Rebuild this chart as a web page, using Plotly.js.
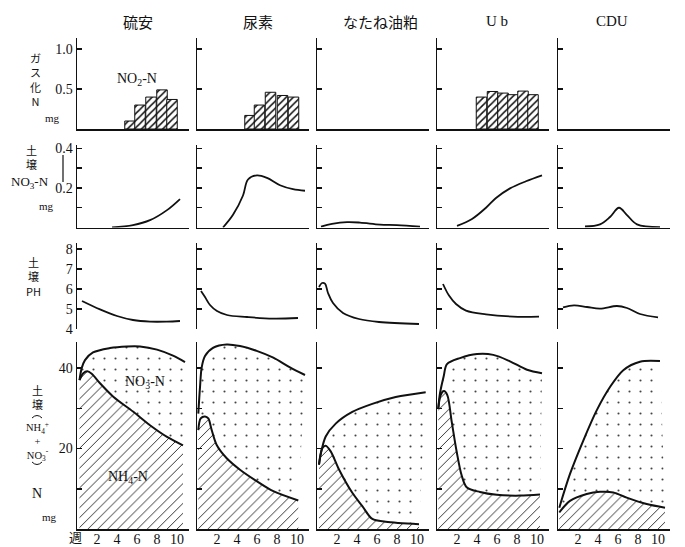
<!DOCTYPE html>
<html><head><meta charset="utf-8">
<script src="https://cdn.plot.ly/plotly-3.0.1.min.js"></script>
<style>body{margin:0;background:#fff}#chart{width:685px;height:547px}</style>
</head><body><div id="chart"></div>
<script>
// ---------- DATA ----------
const colNames = ['硫安', '尿素', 'なたね油粕', 'U b', 'CDU'];
const weekTicks = [2, 4, 6, 8, 10];

// Row 1: gasified N (NO2-N), mg
const gasX1 = [5.3, 6.3, 7.4, 8.5, 9.5];
const gasY1 = [0.10, 0.30, 0.40, 0.49, 0.37];
const gasX2 = [5.3, 6.25, 7.35, 8.55, 9.65];
const gasY2 = [0.17, 0.30, 0.46, 0.42, 0.40];
const gasX3 = [];
const gasY3 = [];
const gasX4 = [4.45, 5.55, 6.6, 7.6, 8.6, 9.6];
const gasY4 = [0.40, 0.47, 0.45, 0.43, 0.475, 0.43];
const gasX5 = [];
const gasY5 = [];

// Row 2: soil NO3-N, mg
const no3X1 = [3.5, 5.6, 7.3, 9.0, 10.3];
const no3Y1 = [0.0, 0.012, 0.037, 0.088, 0.144];
const no3X2 = [2.6, 3.6, 4.6, 5.1, 6.0, 7.0, 8.3, 9.6, 10.8];
const no3Y2 = [0.0, 0.064, 0.162, 0.243, 0.264, 0.251, 0.214, 0.194, 0.186];
const no3X3 = [0.4, 1.5, 3.0, 4.3, 6.3, 8.0, 10.3];
const no3Y3 = [0.005, 0.018, 0.027, 0.025, 0.015, 0.012, 0.004];
const no3X4 = [2.0, 3.5, 4.9, 5.9, 7.3, 8.9, 10.5];
const no3Y4 = [0.008, 0.043, 0.10, 0.149, 0.198, 0.234, 0.264];
const no3X5 = [2.7, 4.2, 5.2, 6.1, 6.9, 7.9, 10.2];
const no3Y5 = [0.005, 0.016, 0.053, 0.10, 0.063, 0.016, 0.002];

// Row 3: soil pH
const phX1 = [0.5, 2.3, 4.0, 5.6, 7.3, 9.0, 10.3];
const phY1 = [5.4, 4.98, 4.65, 4.45, 4.37, 4.37, 4.4];
const phX2 = [0.4, 0.8, 1.3, 2.0, 3.0, 5.0, 7.6, 10.1];
const phY2 = [5.9, 5.6, 5.2, 4.9, 4.7, 4.6, 4.52, 4.55];
const phX3 = [0.2, 0.5, 0.8, 1.1, 1.6, 2.6, 4.2, 6.2, 10.2];
const phY3 = [6.1, 6.3, 6.27, 5.8, 5.3, 4.8, 4.5, 4.35, 4.25];
const phX4 = [0.6, 1.2, 1.9, 2.9, 4.9, 7.6, 10.2];
const phY4 = [6.25, 5.67, 5.25, 4.92, 4.73, 4.62, 4.62];
const phX5 = [0.5, 1.6, 2.9, 4.2, 5.9, 6.9, 8.2, 10.0];
const phY5 = [5.08, 5.18, 5.1, 5.02, 5.15, 5.05, 4.75, 4.58];

// Row 4: soil NH4-N (lower) and NH4+NO3 total (upper), mg
const nh4X1 = [0.25, 0.63, 1.03, 1.47, 2.3, 3.63, 5.6, 7.3, 9.0, 10.6];
const nh4Y1 = [37, 38.75, 39.2, 38.6, 36.25, 32.9, 29.2, 25.8, 22.9, 20.8];
const totX1 = [0.25, 0.47, 0.8, 1.6, 3.3, 5.0, 6.3, 8.0, 9.6, 10.8];
const totY1 = [37, 40, 42, 43.9, 45, 45.4, 45.4, 44.6, 43.1, 41.5];

const nh4X2 = [0.13, 0.37, 0.8, 1.13, 1.47, 1.97, 2.97, 4.3, 5.97, 7.63, 10.13];
const nh4Y2 = [24.6, 27.5, 28.0, 27.5, 24.6, 20.9, 17.6, 14.75, 11.9, 9.4, 7.1];
const totX2 = [0.13, 0.3, 0.47, 0.8, 1.63, 2.97, 4.3, 5.97, 7.63, 9.3, 10.8];
const totY2 = [28.7, 35.2, 40.2, 43, 45.1, 45.9, 45.5, 44.3, 42.6, 40.2, 38.3];

const nh4X3 = [0.2, 0.53, 0.87, 1.37, 2.2, 3.53, 4.53, 5.53, 6.87, 10.2];
const nh4Y3 = [16, 20.1, 20.7, 19.3, 14.8, 9.0, 5.7, 2.5, 1.8, 1.2];
const totX3 = [0.2, 0.4, 0.87, 1.87, 3.53, 5.53, 7.87, 10.87];
const totY3 = [16, 18.9, 23, 26.2, 29.1, 31.1, 32.8, 34];

const nh4X4 = [0.13, 0.37, 0.7, 1.03, 1.47, 1.97, 2.47, 2.97, 4.3, 5.97, 8.3, 10.3];
const nh4Y4 = [30, 33.3, 34.3, 33.3, 26.7, 19.2, 13.3, 10.4, 9.2, 8.5, 8.3, 8.6];
const totX4 = [0.13, 0.3, 0.67, 1.0, 2.3, 4.0, 5.63, 7.3, 9.0, 10.5];
const totY4 = [30, 33.75, 38, 41, 42.5, 43.5, 43.3, 41.7, 39.6, 38.75];

const nh4X5 = [0.13, 1.2, 2.87, 4.2, 5.53, 6.87, 8.87, 10.7];
const nh4Y5 = [4.1, 7.0, 8.7, 9.25, 9.1, 7.8, 6.2, 5.3];
const totX5 = [0.13, 1.2, 2.53, 3.87, 5.2, 6.53, 8.2, 10.2];
const totY5 = [5.3, 13.7, 22, 29.5, 35.3, 39.5, 41.6, 41.75];

const gasX = [gasX1, gasX2, gasX3, gasX4, gasX5];
const gasY = [gasY1, gasY2, gasY3, gasY4, gasY5];
const no3X = [no3X1, no3X2, no3X3, no3X4, no3X5];
const no3Y = [no3Y1, no3Y2, no3Y3, no3Y4, no3Y5];
const phX = [phX1, phX2, phX3, phX4, phX5];
const phY = [phY1, phY2, phY3, phY4, phY5];
const nh4X = [nh4X1, nh4X2, nh4X3, nh4X4, nh4X5];
const nh4Y = [nh4Y1, nh4Y2, nh4Y3, nh4Y4, nh4Y5];
const totX = [totX1, totX2, totX3, totX4, totX5];
const totY = [totY1, totY2, totY3, totY4, totY5];

// labelled ticks and unlabelled (minor) tick spacing per row
const rowTickVals = [[0.5, 1.0], [0.2, 0.4], [4, 5, 6, 7, 8], [20, 40]];
const rowTickText = [['0.5', '1.0'], ['0.2', '0.4'], ['4', '5', '6', '7', '8'], ['20', '40']];
const rowMinorStep = [0.5, 0.1, 1, 10];

// ---------- LAYOUT ----------
const W = 685, H = 547;
const px = v => v / W, py = v => 1 - v / H;
const colPx = [[77, 189], [197, 309], [317, 429], [437, 549], [558, 670]];
const rowPx = [[38, 129], [144.5, 227.5], [243, 329], [342, 529]];
const rowRange = [[0, 1.14], [0, 0.42], [4, 8.3], [0, 46.5]];
const INK = '#111';
const serif = 'Liberation Serif, Noto Sans CJK JP, serif';
const cjk = 'Noto Sans CJK JP, Liberation Serif, sans-serif';

const layout = {
  width: W, height: H,
  margin: {l: 0, r: 0, t: 0, b: 0},
  paper_bgcolor: 'white', plot_bgcolor: 'white',
  showlegend: false,
  annotations: [], shapes: []
};

const traces = [];
function ax(r, c) { const k = r * 5 + c + 1; return k === 1 ? '' : String(k); }

for (let r = 0; r < 4; r++) {
  for (let c = 0; c < 5; c++) {
    const s = ax(r, c);
    const xa = {
      domain: [px(colPx[c][0]), px(colPx[c][1])], range: [0, 11.2],
      anchor: 'y' + s, showline: r !== 2, linecolor: INK, linewidth: 1.5,
      ticks: '', showgrid: false, zeroline: false,
      showticklabels: r === 3, fixedrange: true
    };
    if (r === 3) {
      xa.tickmode = 'array'; xa.tickvals = weekTicks; xa.ticktext = weekTicks.map(String);
      xa.tickfont = {family: serif, size: 14, color: INK};
      xa.ticklabelstandoff = -3;
    }
    layout['xaxis' + s] = xa;
    const ya = {
      domain: [py(rowPx[r][1]), py(rowPx[r][0])], range: rowRange[r],
      anchor: 'x' + s, showline: true, linecolor: INK, linewidth: 1.5,
      ticks: 'inside', ticklen: 5, tickwidth: 1.5, tickcolor: INK,
      tickmode: 'array', tickvals: rowTickVals[r],
      minor: {dtick: rowMinorStep[r], tick0: 0, ticks: 'inside', ticklen: 5, tickwidth: 1.5, tickcolor: INK, showgrid: false},
      showticklabels: c === 0, showgrid: false, zeroline: false, fixedrange: true
    };
    if (c === 0) {
      ya.ticktext = rowTickText[r];
      ya.tickfont = {family: serif, size: 14, color: INK};
    }
    layout['yaxis' + s] = ya;
  }
}

// ---------- TRACES ----------
for (let c = 0; c < 5; c++) {
  // Row 1 bars (empty arrays still create the subplot frame)
  let s = ax(0, c);
  traces.push({
    type: 'bar', x: gasX[c], y: gasY[c], width: 1.05,
    xaxis: 'x' + s, yaxis: 'y' + s,
    marker: {color: 'white', line: {color: INK, width: 1},
      pattern: {shape: '/', fgcolor: INK, bgcolor: 'white', size: 5, solidity: 0.3}}
  });
  // Row 2 NO3-N
  s = ax(1, c);
  traces.push({type: 'scatter', mode: 'lines', x: no3X[c], y: no3Y[c], xaxis: 'x' + s, yaxis: 'y' + s,
    line: {color: INK, width: 1.8, shape: 'spline', smoothing: 1}});
  // Row 3 pH
  s = ax(2, c);
  traces.push({type: 'scatter', mode: 'lines', x: phX[c], y: phY[c], xaxis: 'x' + s, yaxis: 'y' + s,
    line: {color: INK, width: 1.8, shape: 'spline', smoothing: 1}});
  // Row 4 NH4 (hatched) and total (dotted)
  s = ax(3, c);
  traces.push({type: 'scatter', mode: 'lines', x: nh4X[c], y: nh4Y[c], xaxis: 'x' + s, yaxis: 'y' + s,
    line: {color: INK, width: 2, shape: 'spline', smoothing: 0.9},
    fill: 'tozeroy', fillcolor: 'white',
    fillpattern: {shape: '/', fgcolor: '#222', bgcolor: 'white', size: 7, solidity: 0.13}});
  traces.push({type: 'scatter', mode: 'lines', x: totX[c], y: totY[c], xaxis: 'x' + s, yaxis: 'y' + s,
    line: {color: INK, width: 2, shape: 'spline', smoothing: 0.9},
    fill: 'tonexty', fillcolor: 'white',
    fillpattern: {shape: '.', fgcolor: '#444', bgcolor: 'white', size: 11, solidity: 0.03}});
}

// ---------- TEXT ----------
function note(text, x, y, size, family, xref, yref) {
  layout.annotations.push({text: text, x: x, y: y, xref: xref || 'paper', yref: yref || 'paper',
    showarrow: false, xanchor: 'center', yanchor: 'middle', borderpad: 0,
    font: {family: family || serif, size: size || 13, color: INK}});
}
const titleX = [138, 258, 380, 497, 612];
colNames.forEach((t, i) => note(t, px(titleX[i]), py(21), 15, i >= 3 ? serif : cjk));

// row labels (multi-line blocks)
note('ガ<br>ス<br>化<br>N', px(35), py(80), 11, cjk);
note('mg', px(52), py(118), 11);

note('土<br>壌', px(32), py(157), 11, cjk);
note('NO<sub>3</sub>-N', px(30), py(182), 13);
note('mg', px(46), py(206), 11);
layout.shapes.push({type: 'line', xref: 'paper', yref: 'paper', x0: px(63), x1: px(63), y0: py(155), y1: py(182),
  line: {color: INK, width: 1.2}});

note('土<br>壌<br>PH', px(33), py(277), 11, cjk);

note('土<br>壌', px(37), py(397), 11, cjk);
note('NH<sub>4</sub><sup>+</sup><br>+<br>NO<sub>3</sub><sup>-</sup>', px(37), py(441), 10.5, serif);
// bracket arcs above NH4+ and below NO3-
layout.shapes.push({type: 'path', xref: 'paper', yref: 'paper',
  path: 'M' + px(32) + ',' + py(418) + ' Q' + px(37) + ',' + py(413) + ' ' + px(42) + ',' + py(418),
  line: {color: INK, width: 1}});
layout.shapes.push({type: 'path', xref: 'paper', yref: 'paper',
  path: 'M' + px(32) + ',' + py(462) + ' Q' + px(37) + ',' + py(467) + ' ' + px(42) + ',' + py(462),
  line: {color: INK, width: 1}});
note('N', px(37), py(493), 14);
note('mg', px(50), py(517), 11);

note('週', px(75), py(536), 13, cjk);

// in-plot labels
note('NO<sub>2</sub>-N', 6.0, 0.62, 14, serif, 'x', 'y');
note('NO<sub>3</sub>-N', 6.8, 36.5, 14, serif, 'x16', 'y16');
note('NH<sub>4</sub>-N', 5.1, 12.9, 14, serif, 'x16', 'y16');

Plotly.newPlot('chart', traces, layout, {staticPlot: true, displayModeBar: false});
</script></body></html>
